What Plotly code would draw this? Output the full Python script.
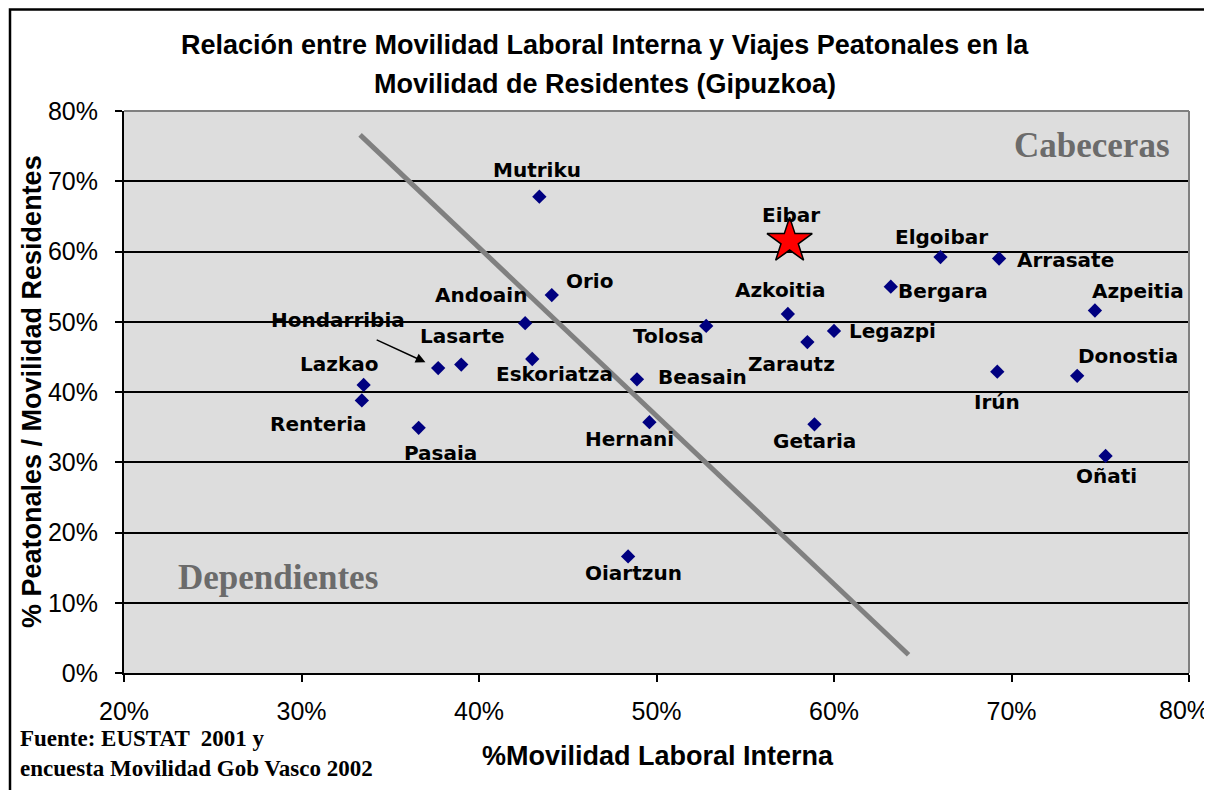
import plotly.graph_objects as go

# ---- data (percent values) ----
names = ["Mutriku", "Orio", "Andoain", "Hondarribia", "Lasarte", "Eskoriatza",
         "Lazkao", "Renteria", "Pasaia", "Tolosa", "Beasain", "Hernani",
         "Oiartzun", "Azkoitia", "Legazpi", "Zarautz", "Getaria", "Bergara",
         "Elgoibar", "Arrasate", "Irún", "Donostia", "Azpeitia", "Oñati"]
mov_laboral = [43.4, 44.1, 42.6, 37.7, 39.0, 43.0,
               33.5, 33.4, 36.6, 52.8, 48.9, 49.6,
               48.4, 57.4, 60.0, 58.5, 58.9, 63.2,
               66.0, 69.3, 69.2, 73.7, 74.7, 75.3]
peatonales = [67.8, 53.8, 49.8, 43.4, 43.9, 44.7,
              41.0, 38.8, 34.9, 49.4, 41.8, 35.7,
              16.6, 51.1, 48.7, 47.1, 35.4, 55.0,
              59.2, 59.0, 42.9, 42.3, 51.6, 30.9]

star_name = ["Eibar"]
star_x = [57.5]
star_y = [61.5]

divider_x = [33.3, 64.2]
divider_y = [76.6, 2.6]

x_ticks = [20, 30, 40, 50, 60, 70, 80]
y_ticks = [0, 10, 20, 30, 40, 50, 60, 70, 80]

# ---- label offsets in pixels (style) ----
label_offsets = {
    "Mutriku": (-2, 27), "Orio": (38, 14), "Andoain": (-44, 28),
    "Hondarribia": (-100, 48), "Lasarte": (1, 29), "Eskoriatza": (22, -15),
    "Lazkao": (-25, 21), "Renteria": (-43, -24), "Pasaia": (22, -25),
    "Tolosa": (-38, -10), "Beasain": (66, 2), "Hernani": (-20, -17),
    "Oiartzun": (5, -17), "Azkoitia": (-8, 24), "Legazpi": (58, 0),
    "Zarautz": (-16, -22), "Getaria": (0, -17), "Bergara": (52, -4),
    "Elgoibar": (1, 20), "Arrasate": (66, -1), "Irún": (0, -30),
    "Donostia": (51, 20), "Azpeitia": (43, 20), "Oñati": (1, -20),
    "Eibar": (1, 26),
}

OFF = 8  # page body margin
W, H = 1212 - OFF, 790 - OFF
L, T = 124 - OFF, 111 - OFF
pw, ph = 1065, 562
R, B = W - L - pw, H - T - ph


def px(xp):
    return (xp - OFF - L) / pw


def py(yp):
    return (T + ph - (yp - OFF)) / ph


fig = go.Figure()

fig.add_trace(go.Scatter(
    x=divider_x, y=divider_y, mode="lines",
    line=dict(color="#808080", width=5), hoverinfo="skip", showlegend=False))

fig.add_trace(go.Scatter(
    x=mov_laboral, y=peatonales, mode="markers", text=names,
    marker=dict(symbol="diamond", size=11, color="#000080"),
    showlegend=False))

fig.add_trace(go.Scatter(
    x=star_x, y=star_y, mode="markers", text=star_name,
    marker=dict(symbol="star", size=34, color="#ff0000",
                line=dict(color="#000000", width=1.5)),
    showlegend=False))

label_font = dict(family="DejaVu Sans", size=20, color="#000000", weight="bold")
annotations = []
for n, xv, yv in list(zip(names, mov_laboral, peatonales)) + list(zip(star_name, star_x, star_y)):
    dx, dy = label_offsets[n]
    annotations.append(dict(
        x=xv, y=yv, xref="x", yref="y", text=n, showarrow=False,
        xshift=dx, yshift=dy, font=label_font))

hi = names.index("Hondarribia")
annotations.append(dict(
    x=mov_laboral[hi], y=peatonales[hi], xref="x", yref="y", text="",
    showarrow=True, ax=-63, ay=-29, standoff=14, arrowhead=2,
    arrowsize=1.3, arrowwidth=1.5, arrowcolor="#000000"))

tick_font = dict(family="Liberation Sans", size=25, color="#000000")
x_ticktext = [f"{v}%" for v in x_ticks]
last_x_label = x_ticktext[-1]
x_ticktext[-1] = ""  # drawn separately so it stays inside the page

# titles and texts
title_font = dict(family="Liberation Sans", size=27, color="#000000", weight="bold")
axis_title_font = dict(family="Liberation Sans", size=27, color="#000000", weight="bold")
src_font = dict(family="Liberation Serif", size=23, color="#000000", weight="bold")
annotations += [
    dict(xref="paper", yref="paper", x=px(1211), y=py(710), text=last_x_label,
         showarrow=False, font=tick_font, xanchor="right", yanchor="middle"),
    dict(xref="paper", yref="paper", x=px(605), y=py(45), text="Relación entre Movilidad Laboral Interna y Viajes Peatonales en la",
         showarrow=False, font=title_font, xanchor="center", yanchor="middle"),
    dict(xref="paper", yref="paper", x=px(605), y=py(84), text="Movilidad de Residentes (Gipuzkoa)",
         showarrow=False, font=title_font, xanchor="center", yanchor="middle"),
    dict(xref="paper", yref="paper", x=px(658), y=py(756), text="%Movilidad Laboral Interna",
         showarrow=False, font=axis_title_font, xanchor="center", yanchor="middle"),
    dict(xref="paper", yref="paper", x=px(32), y=py(392), text="% Peatonales / Movilidad Residentes",
         showarrow=False, textangle=-90, font=axis_title_font,
         xanchor="center", yanchor="middle"),
    dict(xref="paper", yref="paper", x=px(1172), y=py(146), text="Cabeceras",
         showarrow=False, font=dict(family="Liberation Serif", size=35, color="#6b6b6b", weight="bold"),
         xanchor="right", yanchor="middle"),
    dict(xref="paper", yref="paper", x=px(176), y=py(577), text="Dependientes",
         showarrow=False, font=dict(family="Liberation Serif", size=35, color="#6b6b6b", weight="bold"),
         xanchor="left", yanchor="middle"),
    dict(xref="paper", yref="paper", x=px(18), y=py(753),
         text="Fuente: EUSTAT  2001 y<br>encuesta Movilidad Gob Vasco 2002",
         showarrow=False, font=src_font, xanchor="left", yanchor="middle", align="left"),
]

shapes = [
    # grey top and right plot borders
    dict(type="line", xref="paper", yref="paper", x0=0, x1=1, y0=1, y1=1,
         line=dict(color="#808080", width=2), layer="above"),
    dict(type="line", xref="paper", yref="paper", x0=1, x1=1, y0=0, y1=1,
         line=dict(color="#808080", width=2), layer="above"),
    # outer chart frame
    dict(type="rect", xref="paper", yref="paper", x0=px(10), x1=px(1240), y0=py(9.5), y1=py(820),
         line=dict(color="#000000", width=2.5), fillcolor="rgba(0,0,0,0)", layer="above"),
]

fig.update_layout(
    width=W, height=H,
    margin=dict(l=L, r=R, t=T, b=B, pad=0, autoexpand=False),
    paper_bgcolor="#ffffff", plot_bgcolor="#dddddd",
    annotations=annotations, shapes=shapes,
    xaxis=dict(range=[20, 80], tickvals=x_ticks, ticktext=x_ticktext,
               showgrid=False, zeroline=False, showline=True, linecolor="#000000", linewidth=2,
               ticks="outside", ticklen=7, tickwidth=1.5, tickcolor="#000000",
               tickfont=tick_font, ticklabelstandoff=8, ticklabeloverflow="allow",
               fixedrange=True, automargin=False),
    yaxis=dict(range=[0, 80], tickvals=y_ticks, ticktext=[f"{v}%" for v in y_ticks],
               showgrid=True, gridcolor="#000000", gridwidth=1.5, zeroline=False,
               showline=True, linecolor="#000000", linewidth=2,
               ticks="outside", ticklen=7, tickwidth=1.5, tickcolor="#000000",
               tickfont=tick_font, ticklabelstandoff=12, ticklabeloverflow="allow",
               fixedrange=True, automargin=False),
    hovermode="closest",
)

fig.write_html("out.html")
